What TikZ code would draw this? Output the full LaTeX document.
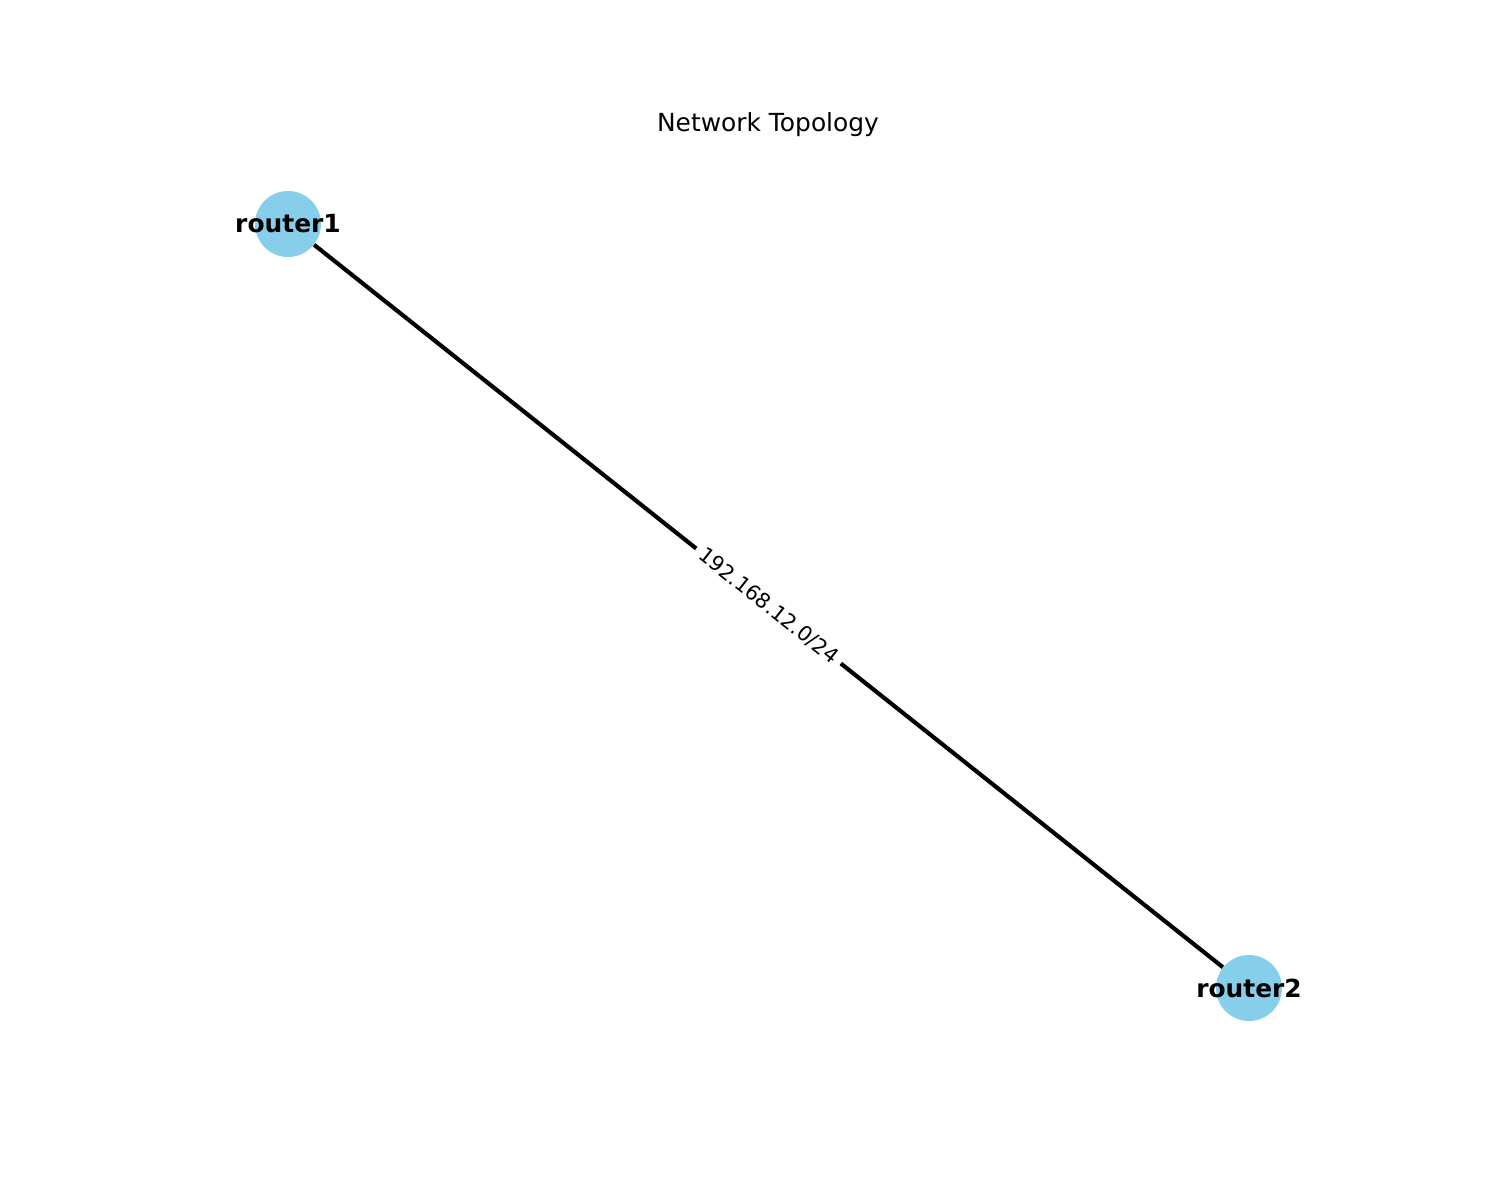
\documentclass[tikz,border=0pt]{standalone}
\usepackage{fontspec}
\setmainfont{DejaVu Sans}
\definecolor{skyblue}{HTML}{87CEEB}
\tikzset{
  router/.style={circle,fill=skyblue,minimum size=1.1176cm,inner sep=0pt},
  link/.style={line width=2pt,black},
  netlabel/.style={fill=white,inner sep=3pt,font=\fontsize{10}{12}\selectfont}
}
\begin{document}
\begin{tikzpicture}[x=0.016933cm,y=-0.016933cm]
\useasboundingbox (0,0) rectangle (1500,1200);
\node[font=\fontsize{12}{14}\selectfont] (title) at (768,125) {Network Topology};
\node[router,label={[font=\fontsize{12}{14}\selectfont\bfseries]center:router1}] (router1) at (288,224) {};
\node[router,label={[font=\fontsize{12}{14}\selectfont\bfseries]center:router2}] (router2) at (1249,988) {};
\draw[link] (router1) -- node[netlabel,sloped] {192.168.12.0/24} (router2);
\end{tikzpicture}
\end{document}
